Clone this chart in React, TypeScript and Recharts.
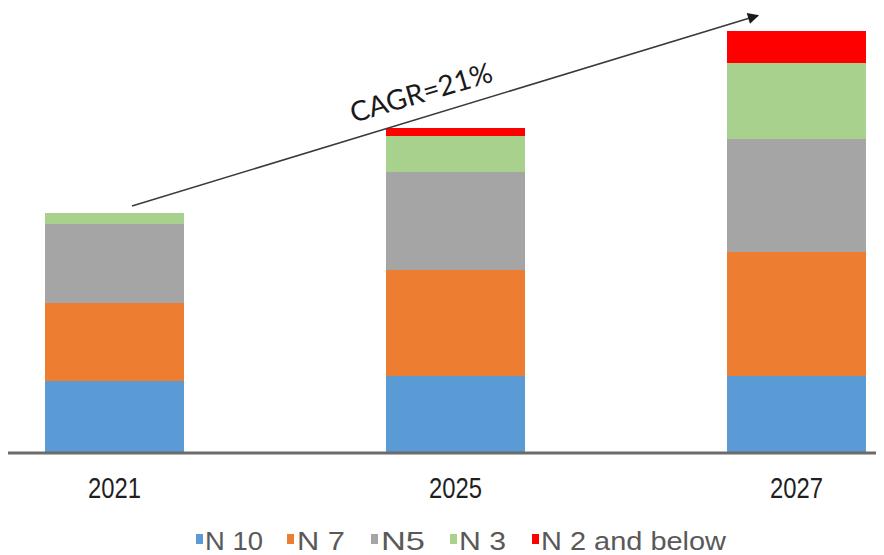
import React from "react";
import { BarChart, Bar, XAxis, YAxis, Legend } from "recharts";

// Market size by process node, stacked per year
const years = ["2021", "2025", "2027"];
const n10 = [72, 77, 77];
const n7 = [78, 106, 124];
const n5 = [79, 98, 113];
const n3 = [11, 36, 76];
const n2 = [0, 8, 32];

const seriesNames = ["N 10", "N 7", "N5", "N 3", "N 2 and below"];
const seriesKeys = ["n10", "n7", "n5", "n3", "n2"];
const seriesColors = ["#5B9BD5", "#ED7D31", "#A5A5A5", "#A9D18E", "#FF0000"];

const cagrLabel = "CAGR=21%";

const rows = years.map((year, i) => ({
  year,
  n10: n10[i],
  n7: n7[i],
  n5: n5[i],
  n3: n3[i],
  n2: n2[i],
}));

const NARROW = "'Liberation Sans Narrow', 'Liberation Sans', Arial, sans-serif";

function YearTick(props: any) {
  const { x, y, payload } = props;
  return (
    <text
      x={x}
      y={y + 37}
      textAnchor="middle"
      fontFamily={NARROW}
      fontSize={29}
      fill="#1f1f1f"
      textLength={53}
      lengthAdjust="spacingAndGlyphs"
    >
      {payload.value}
    </text>
  );
}

// legend item layout, in series order: marker x, label x, label width
const legendMarkX = [188, 279, 363, 442, 524];
const legendTextX = [197, 289, 373, 451, 533];
const legendTextW = [58, 48, 44, 47, 185];

function LegendContent(props: any) {
  const payload = ((props.payload || []) as any[])
    .slice()
    .sort((a, b) => seriesNames.indexOf(a.value) - seriesNames.indexOf(b.value));
  return (
    <svg width={876} height={34} style={{ display: "block", overflow: "visible" }}>
      {payload.map((p) => {
        const i = seriesNames.indexOf(p.value);
        return (
          <g key={p.value}>
            <rect x={legendMarkX[i]} y={13} width={7} height={10} fill={seriesColors[i]} />
            <text
              x={legendTextX[i]}
              y={29}
              fontFamily={NARROW}
              fontSize={25.5}
              fill="#595959"
              textLength={legendTextW[i]}
              lengthAdjust="spacingAndGlyphs"
            >
              {p.value}
            </text>
          </g>
        );
      })}
    </svg>
  );
}

export default function App() {
  return (
    <div
      style={{
        position: "relative",
        width: 876,
        height: 547,
        overflow: "hidden",
        background: "#fff",
      }}
    >
      <div style={{ position: "absolute", left: -64.5, top: 0 }}>
        <BarChart
          width={1023}
          height={547}
          data={rows}
          margin={{ top: 15, right: 0, left: 0, bottom: 28 }}
          barSize={139}
        >
          <XAxis
            dataKey="year"
            interval={0}
            height={40}
            tickLine={false}
            axisLine={{ stroke: "#6b6b6b", strokeWidth: 3 }}
            tick={<YearTick />}
          />
          <YAxis hide domain={[0, 430]} />
          <Legend
            content={<LegendContent />}
            wrapperStyle={{ left: 64.5, top: 513, bottom: "auto", width: 876, height: 34 }}
          />
          {seriesKeys.map((k, i) => (
            <Bar
              key={k}
              dataKey={k}
              name={seriesNames[i]}
              stackId="a"
              fill={seriesColors[i]}
              isAnimationActive={false}
            />
          ))}
        </BarChart>
      </div>
      <svg
        width={884}
        height={555}
        style={{ position: "absolute", left: -8, top: -8, pointerEvents: "none" }}
      >
        <defs>
          <marker
            id="arrowHead"
            viewBox="0 0 10 10"
            refX="9"
            refY="5"
            markerWidth="8"
            markerHeight="7"
            markerUnits="strokeWidth"
            orient="auto"
          >
            <path d="M0,0 L10,5 L0,10 z" fill="#1a1a1a" />
          </marker>
        </defs>
        <line
          x1={132}
          y1={206}
          x2={758}
          y2={15.5}
          stroke="#3a3a3a"
          strokeWidth={1.6}
          markerEnd="url(#arrowHead)"
        />
        <text
          x={424}
          y={102}
          textAnchor="middle"
          transform="rotate(-16.5 424 102)"
          fontFamily="Lato, 'Open Sans', sans-serif"
          fontSize={28}
          fill="#1a1a1a"
          textLength={147}
          lengthAdjust="spacingAndGlyphs"
        >
          {cagrLabel}
        </text>
      </svg>
    </div>
  );
}
